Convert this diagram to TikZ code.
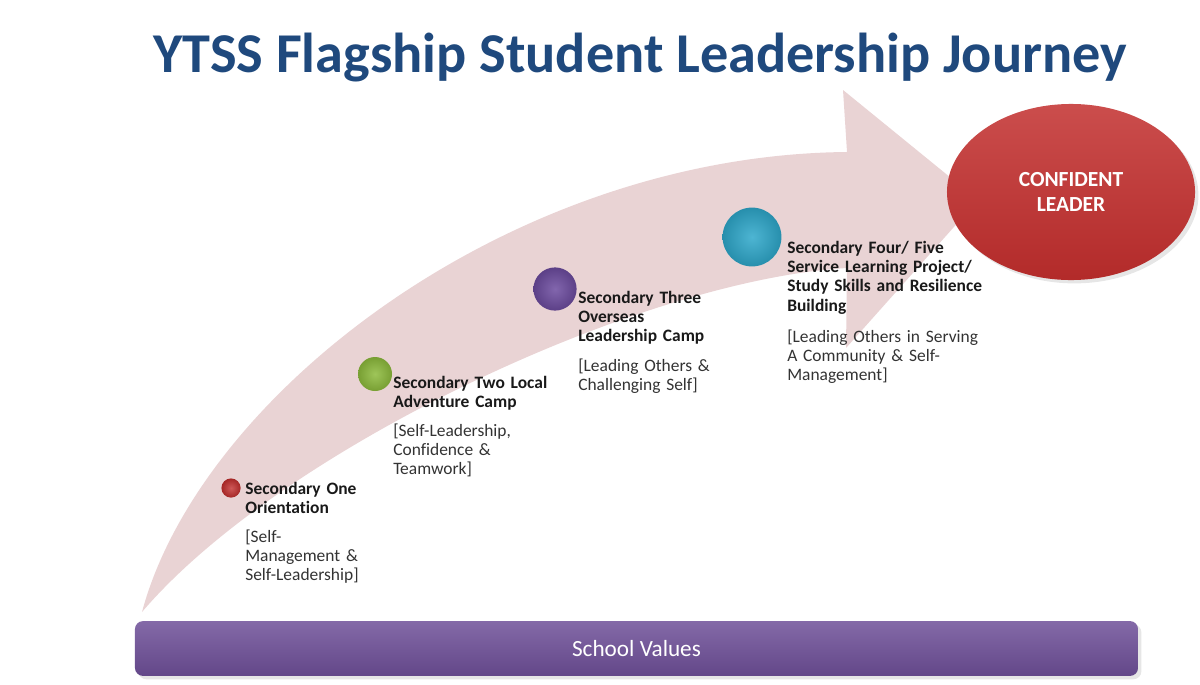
\documentclass[tikz,border=0pt]{standalone}
\usepackage{fontspec}
\setmainfont{Carlito}[Ligatures=NoCommon]
\usepackage{tikz}
\usetikzlibrary{shapes.geometric, positioning, shadows}
\definecolor{ytssblue}{HTML}{1F497D}
\definecolor{ytsspink}{HTML}{E9D3D4}
\definecolor{ytssred}{HTML}{C22E2D}
\definecolor{ytssgreen}{HTML}{8DBB3C}
\definecolor{ytsspurple}{HTML}{6C4B9F}
\definecolor{ytsscyan}{HTML}{2EA8CB}
\definecolor{ytssbar}{HTML}{6E4F98}

\begin{document}
\begin{tikzpicture}[
    x=0.025cm, y=-0.025cm,
    dot/.style={circle, inner sep=0pt, minimum size=#1},
    stagehead/.style={anchor=base west, inner sep=0pt, text width=6.5cm, align=left, text=black!90, font=\fontsize{12.4}{13.8}\selectfont\bfseries},
    stagenote/.style={anchor=base west, inner sep=0pt, text width=6.5cm, align=left, text=black!80, font=\fontsize{12.4}{13.8}\selectfont},
    goal/.style={ellipse, minimum width=6.2cm, minimum height=4.4cm, top color=ytssred!85!white, bottom color=ytssred!92!black, text=white, align=center, font=\fontsize{15.3}{18.2}\selectfont\bfseries, drop shadow={opacity=0.2}},
    values/.style={rectangle, rounded corners=0.2cm, minimum width=25.07cm, minimum height=1.37cm, top color=ytssbar!85!white, bottom color=ytssbar!90!black, text=white, font=\fontsize{16.5}{18}\selectfont, drop shadow={opacity=0.2}}
]
\useasboundingbox (0,0) rectangle (1200,684);

% Title
\node[anchor=base, inner sep=0pt, text=ytssblue, font=\fontsize{40}{48}\selectfont\bfseries] (title) at (640,72) {YTSS Flagship Student Leadership Journey};

% Journey arrow
\fill[ytsspink] (142,612) .. controls (200,395) and (510,155) .. (847,152)
    -- (843,90) -- (978,200) -- (846,348) -- (847,268)
    .. controls (640,280) and (280,450) .. (142,612) -- cycle;

% Goal
\node[goal] (leader) at (1071,192) {CONFIDENT\\LEADER};

% Stages
\node[dot=0.48cm, inner color=ytssred!80!white, outer color=ytssred!85!black] (dot_one) at (231,488) {};
\node[dot=0.85cm, inner color=ytssgreen!85!white, outer color=ytssgreen!85!black] (dot_two) at (375,374) {};
\node[dot=1.08cm, inner color=ytsspurple!85!white, outer color=ytsspurple!85!black] (dot_three) at (555,289) {};
\node[dot=1.47cm, inner color=ytsscyan!85!white, outer color=ytsscyan!85!black] (dot_four) at (752,237) {};

\node[stagehead] (head_one) at (245,494) {Secondary One\\Orientation};
\node[stagenote] (note_one) at (245,542) {[Self-\\Management \&\\Self-Leadership]};

\node[stagehead] (head_two) at (393,388) {Secondary Two Local\\Adventure Camp};
\node[stagenote] (note_two) at (393,436) {[Self-Leadership,\\Confidence \&\\Teamwork]};

\node[stagehead] (head_three) at (578,303) {Secondary Three\\Overseas\\Leadership Camp};
\node[stagenote] (note_three) at (578,371) {[Leading Others \&\\Challenging Self]};

\node[stagehead] (head_four) at (787,253) {Secondary Four/ Five\\Service Learning Project/\\Study Skills and Resilience\\Building};
\node[stagenote] (note_four) at (787,342) {[Leading Others in Serving\\A Community \& Self-\\Management]};

% Base
\node[values] (school) at (636.5,648.5) {School Values};
\end{tikzpicture}
\end{document}
